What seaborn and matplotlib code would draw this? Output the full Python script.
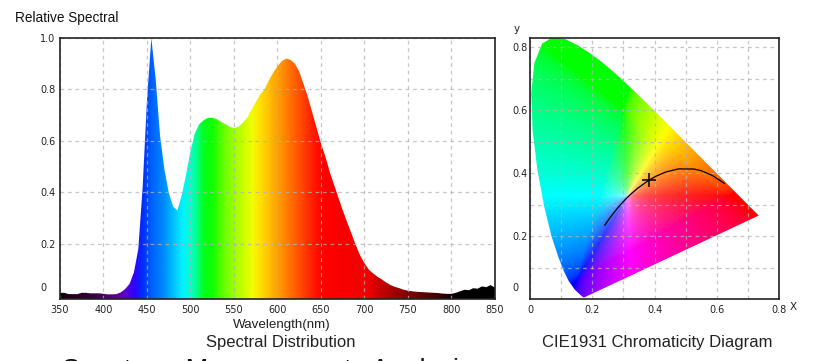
import numpy as np
import matplotlib
matplotlib.use('Agg')
import matplotlib.pyplot as plt
import seaborn as sns
from matplotlib.colors import LinearSegmentedColormap, rgb_to_hsv, hsv_to_rgb
from matplotlib.patches import Polygon
from matplotlib.ticker import MultipleLocator

# --- spectral distribution (relative), every 5 nm ---
wavelength = [350, 355, 360, 365, 370, 375, 380, 385, 390, 395,
              400, 405, 410, 415, 420, 425, 430, 435, 440, 445,
              450, 455, 460, 465, 470, 475, 480, 485, 490, 495,
              500, 505, 510, 515, 520, 525, 530, 535, 540, 545,
              550, 555, 560, 565, 570, 575, 580, 585, 590, 595,
              600, 605, 610, 615, 620, 625, 630, 635, 640, 645,
              650, 655, 660, 665, 670, 675, 680, 685, 690, 695,
              700, 705, 710, 715, 720, 725, 730, 735, 740, 745,
              750, 755, 760, 765, 770, 775, 780, 785, 790, 795,
              800, 805, 810, 815, 820, 825, 830, 835, 840, 845, 850]
relative = [0.010, 0.010, 0.005, 0.005, 0.005, 0.010, 0.010, 0.008, 0.008, 0.008,
            0.006, 0.004, 0.004, 0.005, 0.012, 0.025, 0.045, 0.090, 0.180, 0.420,
            0.760, 1.000, 0.840, 0.620, 0.490, 0.400, 0.345, 0.330, 0.390, 0.470,
            0.560, 0.630, 0.665, 0.680, 0.690, 0.690, 0.685, 0.675, 0.665, 0.655,
            0.650, 0.655, 0.670, 0.690, 0.720, 0.750, 0.780, 0.800, 0.835, 0.865,
            0.890, 0.910, 0.920, 0.915, 0.900, 0.870, 0.820, 0.770, 0.710, 0.650,
            0.590, 0.540, 0.480, 0.430, 0.380, 0.330, 0.285, 0.240, 0.195, 0.155,
            0.125, 0.100, 0.085, 0.072, 0.062, 0.050, 0.040, 0.033, 0.028, 0.022,
            0.018, 0.016, 0.014, 0.013, 0.012, 0.011, 0.010, 0.009, 0.007, 0.006,
            0.006, 0.010, 0.016, 0.022, 0.020, 0.028, 0.026, 0.035, 0.032, 0.040, 0.030]

# rainbow used to paint the spectrum
rainbow_nm = [350, 380, 400, 415, 425, 435, 445, 455, 470, 480, 490, 500, 507, 515,
              525, 540, 555, 570, 580, 590, 600, 615, 630, 645, 655, 705, 715, 735,
              760, 785, 805, 850]
rainbow_col = ['#140010', '#300030', '#480060', '#6000a0', '#5a00d0', '#3000ff',
               '#0030ff', '#0060ff', '#0090ff', '#00c0ff', '#00f0ff', '#00ffd0',
               '#00ff80', '#00ff20', '#10ff00', '#70ff00', '#b0ff00', '#f0ff00',
               '#ffe000', '#ffc000', '#ffa000', '#ff7000', '#ff4000', '#ff1000',
               '#ff0000', '#f00000', '#d00000', '#a00000', '#700000', '#400000',
               '#000000', '#000000']

# --- CIE 1931 spectral locus ---
locus_nm = [380, 420, 440, 450, 460, 470, 475, 480, 485, 490, 495, 500, 505, 510,
            515, 520, 525, 530, 535, 540, 545, 550, 555, 560, 565, 570, 575, 580,
            585, 590, 595, 600, 610, 620, 630, 640, 650, 700]
locus_x = [0.1741, 0.1714, 0.1644, 0.1566, 0.1440, 0.1241, 0.1096, 0.0913, 0.0687,
           0.0454, 0.0235, 0.0082, 0.0039, 0.0139, 0.0389, 0.0743, 0.1142, 0.1547,
           0.1929, 0.2296, 0.2658, 0.3016, 0.3373, 0.3731, 0.4087, 0.4441, 0.4788,
           0.5125, 0.5448, 0.5752, 0.6029, 0.6270, 0.6658, 0.6915, 0.7079, 0.7190,
           0.7260, 0.7347]
locus_y = [0.0050, 0.0051, 0.0109, 0.0177, 0.0297, 0.0578, 0.0868, 0.1327, 0.2007,
           0.2950, 0.4127, 0.5384, 0.6548, 0.7502, 0.8120, 0.8338, 0.8262, 0.8059,
           0.7816, 0.7543, 0.7243, 0.6923, 0.6589, 0.6245, 0.5896, 0.5547, 0.5202,
           0.4866, 0.4544, 0.4242, 0.3965, 0.3725, 0.3340, 0.3083, 0.2920, 0.2809,
           0.2740, 0.2653]

# Planckian locus
cct_k = [1200, 1500, 1800, 2000, 2500, 3000, 3500, 4000, 5000, 6000, 7000, 8000,
         10000, 15000, 25000, 100000]
planck_x = [0.6251, 0.5857, 0.5496, 0.5267, 0.4770, 0.4369, 0.4053, 0.3805, 0.3451,
            0.3221, 0.3064, 0.2952, 0.2807, 0.2637, 0.2511, 0.2399]
planck_y = [0.3674, 0.3931, 0.4081, 0.4133, 0.4137, 0.4041, 0.3907, 0.3768, 0.3516,
            0.3318, 0.3166, 0.3048, 0.2883, 0.2673, 0.2504, 0.2342]

# measured chromaticity point
point_x = [0.381]
point_y = [0.378]

sns.set_style('white')
plt.rcParams['font.family'] = ['DejaVu Sans']
label_font = ['Liberation Sans', 'DejaVu Sans']
grid_kw = dict(color=(0.70, 0.70, 0.70), alpha=0.75, linestyle=(0, (3, 3)), linewidth=0.9)
tick_col = '#222222'

fig = plt.figure(figsize=(8.32, 3.61), dpi=100)
ax1 = fig.add_axes([60 / 832, 1 - 299 / 361, 435 / 832, 261 / 361])
ax2 = fig.add_axes([530 / 832, 1 - 299 / 361, 249 / 832, 261 / 361])

# ---------- spectral distribution ----------
y_low = -0.014
stops = [(w - 350) / 500 for w in rainbow_nm]
cmap = LinearSegmentedColormap.from_list('spec', list(zip(stops, rainbow_col)), N=512)
img1 = ax1.imshow(np.linspace(0, 1, 1000)[None, :], cmap=cmap, aspect='auto',
                  extent=(350, 850, y_low, 1.0), interpolation='bilinear', zorder=1)
fill = ax1.fill_between(wavelength, y_low, relative, facecolor='none', edgecolor='none')
img1.set_clip_path(fill.get_paths()[0], transform=ax1.transData)

ax1.set_xlim(350, 850)
ax1.set_ylim(y_low, 1.0)
ax1.set_xticks(range(350, 851, 50))
ax1.set_yticks([0, 0.2, 0.4, 0.6, 0.8, 1.0])
ax1.set_yticklabels(['', '0.2', '0.4', '0.6', '0.8', '1.0'])
ax1.set_axisbelow(False)
ax1.grid(True, **grid_kw)
ax1.yaxis.get_gridlines()[0].set_visible(False)

# ---------- CIE 1931 ----------
gx = np.linspace(0, 0.8, 480)
gy = np.linspace(0, 0.83, 500)
XX, YY = np.meshgrid(gx, gy)
yy = np.clip(YY, 1e-4, None)
Xt = XX / yy
Zt = (1 - XX - YY) / yy
r = 3.2406 * Xt - 1.5372 - 0.4986 * Zt
g = -0.9689 * Xt + 1.8758 + 0.0415 * Zt
b = 0.0557 * Xt - 0.2040 + 1.0570 * Zt
rgb = np.clip(np.stack([r, g, b], axis=-1), 0, None)
rgb = rgb / (rgb.max(axis=-1, keepdims=True) + 1e-9)
rgb = np.where(rgb <= 0.0031308, 12.92 * rgb, 1.055 * rgb ** (1 / 2.4) - 0.055)
hsv = rgb_to_hsv(np.clip(rgb, 0, 1))
hsv[..., 1] = hsv[..., 1] ** 0.28
hsv[..., 2] = 1.0
rgb = hsv_to_rgb(hsv)
img2 = ax2.imshow(rgb, origin='lower', extent=(0, 0.8, 0, 0.83), aspect='auto',
                  interpolation='bilinear', zorder=1)
horseshoe = Polygon(np.column_stack([locus_x, locus_y]), closed=True,
                    transform=ax2.transData, facecolor='none', edgecolor='none')
ax2.add_patch(horseshoe)
img2.set_clip_path(horseshoe)

sns.lineplot(x=planck_x, y=planck_y, sort=False, color='black', linewidth=0.9,
             ax=ax2, zorder=4)
sns.scatterplot(x=point_x, y=point_y, marker='+', s=110, color='black',
                linewidth=1.1, ax=ax2, zorder=5)

ax2.set_xlim(0, 0.8)
ax2.set_ylim(0, 0.83)
ax2.set_xticks([0, 0.2, 0.4, 0.6, 0.8])
ax2.set_xticklabels(['0', '0.2', '0.4', '0.6', '0.8'])
ax2.set_yticks([0, 0.2, 0.4, 0.6, 0.8])
ax2.set_yticklabels(['', '0.2', '0.4', '0.6', '0.8'])
ax2.xaxis.set_minor_locator(MultipleLocator(0.1))
ax2.yaxis.set_minor_locator(MultipleLocator(0.1))
ax2.set_axisbelow(False)
ax2.grid(True, which='both', **grid_kw)

# y labels are left aligned in the source; the "0" sits a little above the bottom
for ax, ypad, zero_dy in ((ax1, 14.4, 7), (ax2, 13.0, 11)):
    ax.set_xlabel('')
    ax.set_ylabel('')
    ax.tick_params(which='both', length=0, labelsize=7, labelcolor=tick_col)
    ax.tick_params(axis='x', pad=4)
    ax.tick_params(axis='y', pad=ypad)
    for lab in ax.get_yticklabels():
        lab.set_horizontalalignment('left')
    ax.annotate('0', xy=(0, 0), xycoords=('axes fraction', 'data'),
                xytext=(-ypad * 100 / 72, zero_dy), textcoords='offset pixels',
                ha='left', va='center', fontsize=7, color=tick_col,
                annotation_clip=False)
    for side in ax.spines.values():
        side.set_color('#222222')
        side.set_linewidth(1.2)
        side.set_zorder(6)

# ---------- texts ----------
fig.text(15 / 832, 1 - 18 / 361, 'Relative Spectral', fontsize=9.8, family=label_font,
         ha='left', va='center', color='#111111')
fig.text(282 / 832, 1 - 325 / 361, 'Wavelength(nm)', fontsize=9.6, family=label_font,
         ha='center', va='center', color='#222222')
fig.text(281 / 832, 1 - 342 / 361, 'Spectral Distribution', fontsize=12, family=label_font,
         ha='center', va='center', color='#222222')
fig.text(657 / 832, 1 - 343 / 361, 'CIE1931 Chromaticity Diagram', fontsize=12,
         family=label_font, ha='center', va='center', color='#222222')
fig.text(517 / 832, 1 - 29 / 361, 'y', fontsize=7.5, ha='center', va='center',
         color=tick_col)
fig.text(793 / 832, 1 - 307 / 361, 'X', fontsize=7.5, ha='center', va='center',
         color=tick_col)
# page heading below the charts, clipped by the bottom edge as in the source
fig.text(62 / 832, 1 - 378 / 361, 'Spectrum Measurements Analysis', fontsize=19.5,
         family=label_font, ha='left', va='baseline', color='#111111')

fig.savefig('out.png', dpi=100)
